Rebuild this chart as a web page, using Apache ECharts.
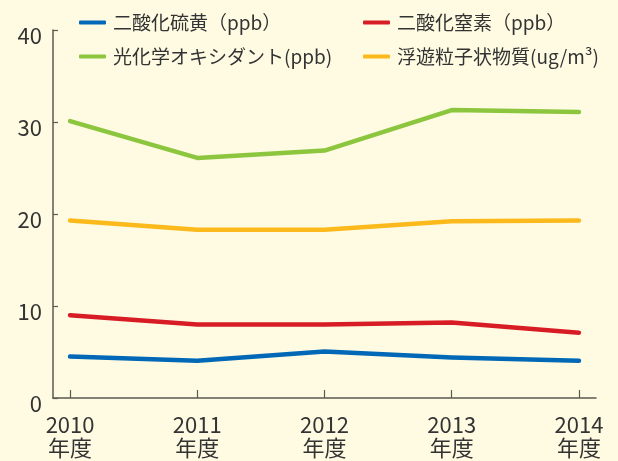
<!DOCTYPE html>
<html>
<head>
<meta charset="utf-8">
<script src="https://cdn.jsdelivr.net/npm/echarts@6/dist/echarts.min.js"></script>
<style>
  html, body { margin: 0; padding: 0; background: #fefbe2; }
  #chart { width: 618px; height: 461px; }
</style>
</head>
<body>
<div id="chart"></div>
<script>
const years = [2010, 2011, 2012, 2013, 2014]
const seriesNames = ['二酸化硫黄（ppb）', '二酸化窒素（ppb）', '光化学オキシダント(ppb)', '浮遊粒子状物質(ug/m³)']
const so2 = [4.5, 4.05, 5.05, 4.4, 4.05]
const no2 = [9.0, 8.0, 8.0, 8.2, 7.1]
const ox = [30.1, 26.1, 26.9, 31.3, 31.1]
const spm = [19.3, 18.3, 18.3, 19.2, 19.3]
const yTicks = [0, 10, 20, 30, 40]

const colorList = ['#0068b7', '#d81c25', '#8cc63f', '#fbb91b']
const font = '"Noto Sans CJK JP", "Noto Sans", sans-serif'
const values = [so2, no2, ox, spm]
// legend spots: two rows, two columns
const legendPos = [[74, 8], [358, 8], [74, 42], [358, 42]]

const chart = echarts.init(document.getElementById('chart'))
chart.setOption({
  backgroundColor: '#fefbe2',
  color: colorList,
  textStyle: { fontFamily: font },
  legend: seriesNames.map((name, i) => ({
    data: [name],
    left: legendPos[i][0],
    top: legendPos[i][1],
    icon: 'roundRect',
    itemWidth: 27,
    itemHeight: 4,
    itemGap: 0,
    textStyle: { color: '#333', fontSize: 19, fontFamily: font, padding: [0, 0, 0, 2] }
  })),
  grid: { left: 53, right: 22, top: 30, bottom: 63 },
  xAxis: {
    type: 'value',
    min: 2009.866,
    max: 2014.134,
    splitLine: { show: false },
    axisLine: { show: true, lineStyle: { color: '#5b5a50', width: 1.5 } },
    axisTick: { show: true, inside: true, length: 8, customValues: years, lineStyle: { color: '#5b5a50', width: 1.2 } },
    axisLabel: {
      customValues: years,
      color: '#333',
      fontSize: 22,
      lineHeight: 23,
      margin: 15,
      formatter: v => v + '\n年度'
    }
  },
  yAxis: {
    type: 'value',
    min: 0,
    max: 40,
    interval: 10,
    splitLine: { show: false },
    axisLine: { show: true, lineStyle: { color: '#5b5a50', width: 1.5 } },
    axisTick: { show: true, inside: true, length: 5, lineStyle: { color: '#5b5a50', width: 1.2 } },
    axisLabel: {
      color: '#333',
      fontSize: 22,
      margin: 11,
      verticalAlign: 'top',
      lineHeight: 12,
      formatter: v => (yTicks.includes(v) ? String(v) : '')
    }
  },
  series: seriesNames.map((name, i) => ({
    name,
    type: 'line',
    data: years.map((y, j) => [y, values[i][j]]),
    symbol: 'none',
    lineStyle: { width: 4.5, cap: 'round', join: 'round' },
    z: 2 + (i === 2 ? 1 : 0)
  })),
  animation: false
})
</script>
</body>
</html>
